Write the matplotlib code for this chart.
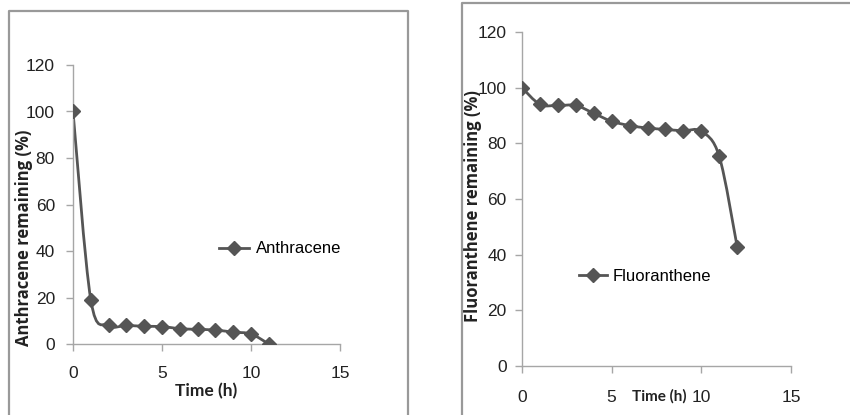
import numpy as np
import matplotlib
matplotlib.use("Agg")
from matplotlib import pyplot as plt
from matplotlib.path import Path
from matplotlib.patches import PathPatch
from matplotlib.lines import Line2D

# data
tiempo_a = [0, 1, 2, 3, 4, 5, 6, 7, 8, 9, 10, 11]
antracen = [100, 19, 8, 8, 7.6, 7.5, 6.6, 6.3, 6, 5.1, 4.3, 0]

tiempo_f = [0, 1, 2, 3, 4, 5, 6, 7, 8, 9, 10, 11, 12]
fluoranten = [100, 94, 93.6, 93.6, 90.8, 87.9, 86.4, 85.5, 85, 84.5, 84.3, 75.3, 42.8]

xticks = [0, 5, 10, 15]
yticks = [0, 20, 40, 60, 80, 100, 120]

culoare = '#555555'
gri = '#a6a6a6'
font_nr = ['Liberation Sans Narrow', 'Liberation Sans', 'DejaVu Sans']
font_bold = ['Open Sans', 'DejaVu Sans']
font_x = ['Lato', 'DejaVu Sans']


def curba_neteda(ax, x, y):
    # bezier de tip Catmull-Rom, ca "smoothed line" din Excel
    p = np.column_stack([x, y]).astype(float)
    n = len(p)
    verts = [p[0]]
    codes = [Path.MOVETO]
    for i in range(n - 1):
        p0 = p[i - 1] if i > 0 else p[i]
        p3 = p[i + 2] if i + 2 < n else p[i + 1]
        c1 = p[i] + (p[i + 1] - p0) / 6
        c2 = p[i + 1] - (p3 - p[i]) / 6
        verts += [c1, c2, p[i + 1]]
        codes += [Path.CURVE4] * 3
    patch = PathPatch(Path(verts, codes), facecolor='none', edgecolor=culoare,
                      lw=2.0, transform=ax.transData, zorder=2)
    ax.add_patch(patch)
    ax.plot(x, y, 'D', color=culoare, ms=7.5, zorder=3)


def formatare(ax, ylabel, xpad, ypad):
    ax.set_xlim(0, 15)
    ax.set_ylim(0, 120)
    ax.set_xticks(xticks)
    ax.set_yticks(yticks)
    for s in ['top', 'right']:
        ax.spines[s].set_visible(False)
    for s in ['left', 'bottom']:
        ax.spines[s].set_color(gri)
        ax.spines[s].set_linewidth(1.0)
    ax.tick_params(axis='both', colors=gri, length=5, width=1.0, labelcolor='#222222')
    ax.tick_params(axis='x', pad=xpad)
    ax.tick_params(axis='y', pad=ypad)
    for lab in ax.get_xticklabels() + ax.get_yticklabels():
        lab.set_fontfamily(font_nr)
        lab.set_fontsize(12.5)
    ax.set_ylabel(ylabel, fontsize=12, fontweight='bold', family=font_bold, color='#222222')


fig = plt.figure(figsize=(8.5, 4.15), dpi=100)

# chenarele gri din jurul graficelor
W, H = 850.0, 415.0
fig.add_artist(Line2D([9 / W, 9 / W, 408 / W, 408 / W], [0, 1 - 11 / H, 1 - 11 / H, 0],
                      color='#999999', lw=1.6, transform=fig.transFigure))
fig.add_artist(Line2D([462 / W, 462 / W, 1], [0, 1 - 3 / H, 1 - 3 / H],
                      color='#999999', lw=1.6, transform=fig.transFigure))

ax1 = fig.add_axes([73 / W, 1 - 344 / H, 267 / W, 279 / H])
curba_neteda(ax1, tiempo_a, antracen)
formatare(ax1, 'Anthracene remaining (%)', 11, 8)
ax1.set_xlabel('Time (h)', fontsize=12.5, fontweight='bold', family=font_x, color='#222222')
ax1.xaxis.set_label_coords(0.5, -0.14)
ax1.yaxis.set_label_coords(-0.15, 0.38)
h1 = Line2D([], [], color=culoare, lw=2, marker='D', ms=7.5)
ax1.legend([h1], ['Anthracene'], loc='center left', bbox_to_anchor=(0.547, 0.341),
           frameon=False, borderpad=0, borderaxespad=0, handlelength=1.8,
           handletextpad=0.4, prop={'family': font_nr, 'size': 12})

ax2 = fig.add_axes([522 / W, 1 - 366 / H, 269 / W, 334 / H])
curba_neteda(ax2, tiempo_f, fluoranten)
formatare(ax2, 'Fluoranthene remaining (%)', 12, 6)
ax2.set_xlabel('Time (h)', fontsize=11, fontweight='bold', family=font_x, color='#222222')
ax2.xaxis.set_label_coords(0.51, -0.07)
ax2.yaxis.set_label_coords(-0.149, 0.479)
h2 = Line2D([], [], color=culoare, lw=2, marker='D', ms=7.5)
ax2.legend([h2], ['Fluoranthene'], loc='center left', bbox_to_anchor=(0.212, 0.269),
           frameon=False, borderpad=0, borderaxespad=0, handlelength=1.7,
           handletextpad=0.3, prop={'family': font_nr, 'size': 12})

fig.savefig('out.png', dpi=100)
